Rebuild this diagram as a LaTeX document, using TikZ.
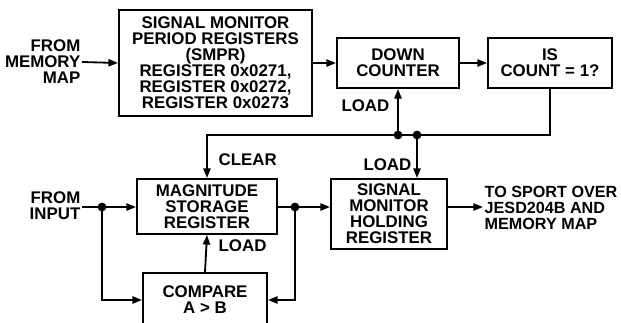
\documentclass[tikz,border=0pt]{standalone}
\usepackage{fontspec}
\setmainfont{Liberation Sans}
\usetikzlibrary{arrows.meta,positioning,calc}
\newcommand{\pxu}{0.025cm}
\tikzset{
  caja/.style   = {draw, line width=1.4pt, align=center, inner sep=2pt},
  flecha/.style = {-{Triangle[length=2.4mm,width=1.8mm]}, line width=1.3pt},
  rotulo/.style = {inner sep=1pt},
  punto/.style  = {circle, fill, inner sep=0pt, minimum size=2.2mm},
}

\begin{document}
\begin{tikzpicture}[x=\pxu, y=-\pxu,
    font=\fontsize{12}{11.4}\selectfont\bfseries]
  \useasboundingbox (0,0) rectangle (621,323);
  \clip (0,0) rectangle (621,323);
  % bloques
  \node[caja, minimum width=193*\pxu, minimum height=106*\pxu] (smpr) at (215.5,63)
    {SIGNAL MONITOR\\PERIOD REGISTERS\\(SMPR)\\REGISTER 0x0271,\\REGISTER 0x0272,\\REGISTER 0x0273};
  \node[caja, minimum width=122*\pxu, minimum height=50*\pxu] (dc) at (398,63) {DOWN\\COUNTER};
  \node[caja, minimum width=124*\pxu, minimum height=50*\pxu] (isc) at (550,63) {IS\\COUNT = 1?};
  \node[caja, minimum width=140*\pxu, minimum height=55*\pxu] (msr) at (207,206.5) {MAGNITUDE\\STORAGE\\REGISTER};
  \node[caja, minimum width=116*\pxu, minimum height=70*\pxu] (smhr) at (389,214) {SIGNAL\\MONITOR\\HOLDING\\REGISTER};
  \node[caja, minimum width=124*\pxu, minimum height=54*\pxu] (cmp) at (205,300) {COMPARE\\A > B};
  % textos de entrada y salida
  \node[rotulo, align=right, anchor=east] (frmem) at (82,62) {FROM\\MEMORY\\MAP};
  \node[rotulo, align=right, anchor=east] (frin) at (82,206) {FROM\\INPUT};
  \node[rotulo, align=left, anchor=west, font=\fontsize{11.5}{11.4}\selectfont\bfseries]
    (out) at (483,208) {TO SPORT OVER\\JESD204B AND\\MEMORY MAP};
  % bus de realimentacion
  \coordinate (bus) at (0,135);
  \coordinate (j3) at (dc.south |- bus);
  \coordinate (j4) at (417,135);
  \coordinate (j1) at (102,207);
  \coordinate (j2) at (295,207);
  % conexiones
  \draw[flecha] (frmem.east) -- (smpr.west);
  \draw[flecha] (smpr.east |- dc.west) -- (dc.west);
  \draw[flecha] (dc.east) -- (isc.west);
  \draw[flecha] (isc.south) -- (isc.south |- bus) -- (msr.north |- bus) -- (msr.north);
  \draw[flecha] (j3) -- (dc.south);
  \draw[flecha] (j4) -- (j4 |- smhr.north);
  \draw[flecha] (frin.east |- j1) -- (msr.west |- j1);
  \draw[flecha] (j1) |- (cmp.west);
  \draw[flecha] (msr.east |- j2) -- (smhr.west |- j2);
  \draw[flecha] (j2) |- (cmp.east);
  \draw[flecha] (cmp.north) -- (msr.south);
  \draw[flecha] (smhr.east |- j2) -- (out.west |- j2);
  \foreach \p in {j1,j2,j3,j4} \node[punto] at (\p) {};
  % etiquetas
  \node[rotulo, anchor=east] (ldc) at (391,106) {LOAD};
  \node[rotulo, anchor=east] (lsm) at (413,165) {LOAD};
  \node[rotulo, anchor=west] (clr) at (217,160) {CLEAR};
  \node[rotulo, anchor=west] (lms) at (217,246) {LOAD};
\end{tikzpicture}
\end{document}
